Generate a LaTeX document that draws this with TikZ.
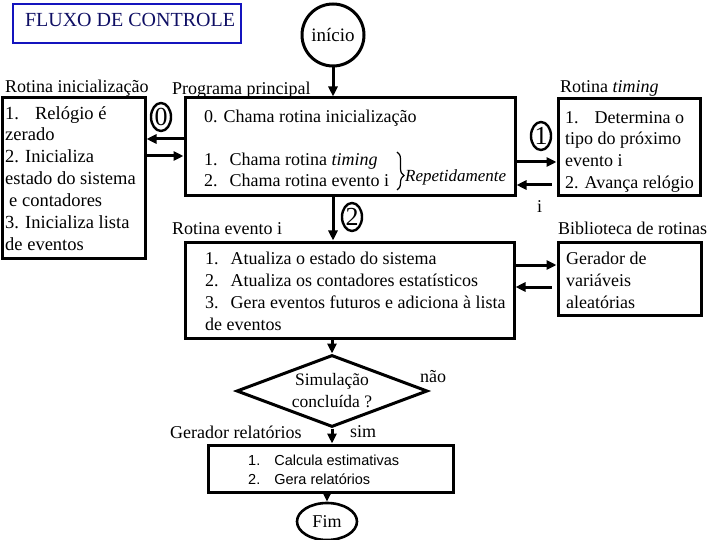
\documentclass[tikz,border=0pt]{standalone}
\usepackage{fontspec}
\setmainfont{Liberation Serif}
\newfontfamily\sansf{Liberation Sans}
\usetikzlibrary{shapes.geometric,arrows.meta,decorations.pathreplacing}
\definecolor{fluxborder}{RGB}{20,20,190}
\definecolor{fluxtext}{RGB}{15,15,100}
\tikzset{
  box/.style={draw, line width=3pt, inner sep=0pt},
  arr/.style={line width=3pt, -{Triangle[length=10pt,width=9pt]}},
  lbl/.style={inner sep=0pt, anchor=base west, font=\fontsize{18}{21}\selectfont},
  txt/.style={inner sep=0pt, anchor=base west, align=left, font=\fontsize{18}{21.8}\selectfont},
  num/.style={draw, ellipse, line width=2.4pt, inner sep=0pt, minimum width=20pt, minimum height=28pt, font=\fontsize{26}{26}\selectfont},
}
\begin{document}
\begin{tikzpicture}[x=1pt,y=-1pt]
\useasboundingbox (0,0) rectangle (720,540);

% title
\node[draw=fluxborder, line width=2.5pt, minimum width=228pt, minimum height=39pt, inner sep=0pt] (title) at (127,23.5) {};
\node[inner sep=0pt, text=fluxtext, font=\fontsize{20}{22}\selectfont] (titletxt) at (130,20) {FLUXO DE CONTROLE};

% start
\node[draw, circle, line width=3pt, minimum size=62pt, inner sep=0pt, font=\fontsize{19}{20}\selectfont] (start) at (333,35) {início};

% boxes
\node[box, minimum width=143pt, minimum height=160pt] (init) at (73.5,178) {};
\node[box, minimum width=330pt, minimum height=98pt] (main) at (350,147) {};
\node[box, minimum width=142pt, minimum height=97pt] (timing) at (629,147.5) {};
\node[box, minimum width=329pt, minimum height=96pt] (event) at (349.5,290) {};
\node[box, minimum width=143pt, minimum height=73pt] (lib) at (629.5,278.5) {};
\node[draw, diamond, line width=3pt, inner sep=0pt, minimum width=191pt, minimum height=72pt] (dec) at (332,391) {};
\node[box, minimum width=245pt, minimum height=47pt] (report) at (330.5,468.5) {};
\node[draw, ellipse, line width=2.6pt, inner sep=0pt, minimum width=60pt, minimum height=37pt, font=\fontsize{18}{18}\selectfont] (fim) at (327,521.5) {Fim};

% labels
\node[lbl] (linit) at (5,93) {Rotina inicialização};
\node[lbl] (lmain) at (172,95) {Programa principal};
\node[lbl] (ltiming) at (560,93) {Rotina \textit{timing}};
\node[lbl] (levent) at (172,234) {Rotina evento i};
\node[lbl] (llib) at (558,234) {Biblioteca de rotinas};
\node[lbl] (li) at (537,212) {i};
\node[lbl] (lnao) at (420,382) {não};
\node[lbl] (lsim) at (350,437) {sim};
\node[lbl] (lger) at (170,438) {Gerador relatórios};

% box texts (anchor = baseline of last line)
\node[txt, font=\fontsize{18.5}{21.8}\selectfont] (tinit) at (5,250) {1.\hspace{16pt}Relógio é\\zerado\\2. Inicializa\\estado do sistema\\\hspace{4pt}e contadores\\3. Inicializa lista\\de eventos};
\node[txt] (tmain0) at (204,123) {0. Chama rotina inicialização};
\node[txt] (tmain1) at (204,187) {1.\hspace{12pt}Chama rotina \textit{timing}\\2.\hspace{12pt}Chama rotina evento i};
\node[txt] (ttiming) at (565,188.5) {1.\hspace{16pt}Determina o\\tipo do próximo\\evento i\\2. Avança relógio};
\node[txt, font=\fontsize{18}{21.7}\selectfont] (tevent) at (205,330) {1.\hspace{12pt}Atualiza o estado do sistema\\2.\hspace{12pt}Atualiza os contadores estatísticos\\3.\hspace{12pt}Gera eventos futuros e adiciona à lista\\de eventos};
\node[txt] (tlib) at (566,308) {Gerador de\\variáveis\\aleatórias};
\node[inner sep=0pt, align=center, font=\fontsize{17.5}{22}\selectfont] (tdec) at (dec.center) {Simulação\\concluída ?};
\node[inner sep=0pt, anchor=base west, align=left, font=\sansf\fontsize{14.5}{19}\selectfont] (trep) at (248,484) {1.\hspace{14pt}Calcula estimativas\\2.\hspace{14pt}Gera relatórios};

% brace
\draw[line width=1.2pt, decorate, decoration={brace, amplitude=7pt, aspect=0.62}] (397,152) -- (397,190);
\node[inner sep=0pt, anchor=west, font=\itshape\fontsize{17}{18}\selectfont] (trep2) at (405,177) {Repetidamente};

% number circles
\node[num] (n0) at (161,117) {0};
\node[num] (n1) at (541,136) {1};
\node[num] (n2) at (352,217) {2};

% connectors
\draw[arr] (start.south) -- (start.south |- main.north);
\draw[arr] (main.west |- 0,139) -- (init.east |- 0,139);
\draw[arr] (init.east |- 0,156) -- (main.west |- 0,156);
\draw[arr] (main.east |- 0,162) -- (timing.west |- 0,162);
\draw[arr, shorten <=5pt] (timing.west |- 0,185) -- (main.east |- 0,185);
\draw[arr] (main.south -| start.south) -- (event.north -| start.south);
\draw[arr] (event.east |- 0,265) -- (lib.west |- 0,265);
\draw[arr, shorten <=5pt] (lib.west |- 0,287) -- (event.east |- 0,287);
\draw[arr] (event.south -| dec.north) -- (dec.north);
\draw[arr] (dec.south) -- (dec.south |- report.north);
\draw[arr] (fim.north |- report.south) -- (fim.north);
\end{tikzpicture}
\end{document}
